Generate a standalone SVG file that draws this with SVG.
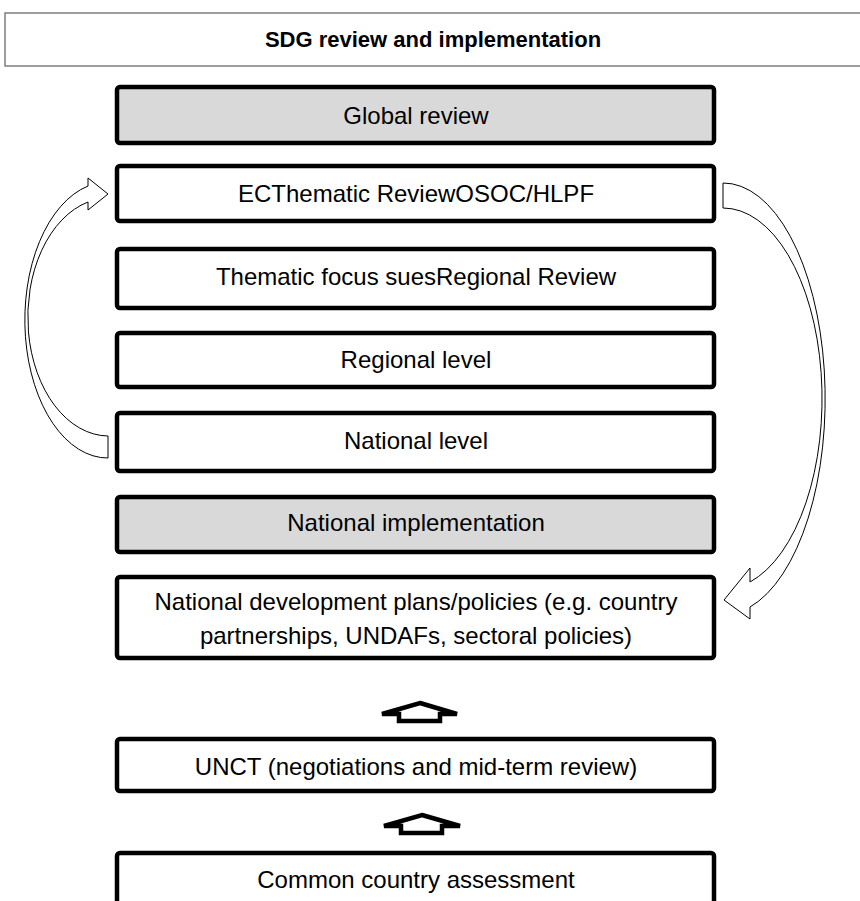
<svg xmlns="http://www.w3.org/2000/svg" width="860" height="901" viewBox="0 0 860 901">
<style>
.box{fill:#ffffff;stroke:#000000;stroke-width:4.5}
.gray{fill:#d9d9d9}
.t{font-family:"Liberation Sans",Arial,sans-serif;font-size:24px;fill:#000000;text-anchor:middle}
.title{font-family:"Liberation Sans",Arial,sans-serif;font-size:22px;font-weight:bold;fill:#000000;text-anchor:middle}
.curve{fill:#ffffff;stroke:#000000;stroke-width:1}
.up{fill:#ffffff;stroke:#000000;stroke-width:4.5;stroke-linejoin:miter;stroke-miterlimit:2}
</style>
<rect width="860" height="901" fill="#ffffff"/>
<g id="title">
<rect x="5" y="13" width="870" height="53" fill="#ffffff" stroke="#7f7f7f" stroke-width="1.5"/>
<text class="title" x="433" y="47">SDG review and implementation</text>
</g>
<g id="global-review">
<rect class="box gray" x="117" y="87" width="597" height="56" rx="3"/>
<text class="t" x="416" y="124">Global review</text>
</g>
<g id="ecthematic">
<rect class="box" x="117" y="166" width="597" height="55" rx="3"/>
<text class="t" x="416" y="202">ECThematic ReviewOSOC/HLPF</text>
</g>
<g id="thematic-focus">
<rect class="box" x="117" y="249" width="597" height="59" rx="3"/>
<text class="t" x="416" y="285">Thematic focus suesRegional Review</text>
</g>
<g id="regional-level">
<rect class="box" x="117" y="333" width="597" height="54" rx="3"/>
<text class="t" x="416" y="368">Regional level</text>
</g>
<g id="national-level">
<rect class="box" x="117" y="413" width="597" height="58" rx="3"/>
<text class="t" x="416" y="449">National level</text>
</g>
<g id="national-implementation">
<rect class="box gray" x="117" y="497" width="597" height="55" rx="3"/>
<text class="t" x="416" y="531">National implementation</text>
</g>
<g id="national-development">
<rect class="box" x="117" y="577" width="597" height="81" rx="3"/>
<text class="t" x="416" y="610">National development plans/policies (e.g. country</text>
<text class="t" x="416" y="644">partnerships, UNDAFs, sectoral policies)</text>
</g>
<g id="unct">
<rect class="box" x="117" y="739" width="597" height="52" rx="3"/>
<text class="t" x="416" y="775">UNCT (negotiations and mid-term review)</text>
</g>
<g id="cca">
<rect class="box" x="117" y="853" width="597" height="60" rx="3"/>
<text class="t" x="416" y="888">Common country assessment</text>
</g>
<g id="connectors">
<path class="curve" d="M108,458 A83,138 0 0 1 88,186 L88,178 L108,194 L88,210 L88,202 A81,119 0 0 0 108,436 Z"/>
<path class="curve" d="M723,183 A102,215.8 0 0 1 750,607 L750,619 L724,600 L750,568 L750,582 A99,190.6 0 0 0 723,208 Z"/>
<path class="up" d="M420,703 L457,714 L440,714 L440,721 L399,721 L399,714 L382,714 Z"/>
<path class="up" d="M422,815 L460,826 L442,826 L442,833 L401,833 L401,826 L384,826 Z"/>
</g>
</svg>
